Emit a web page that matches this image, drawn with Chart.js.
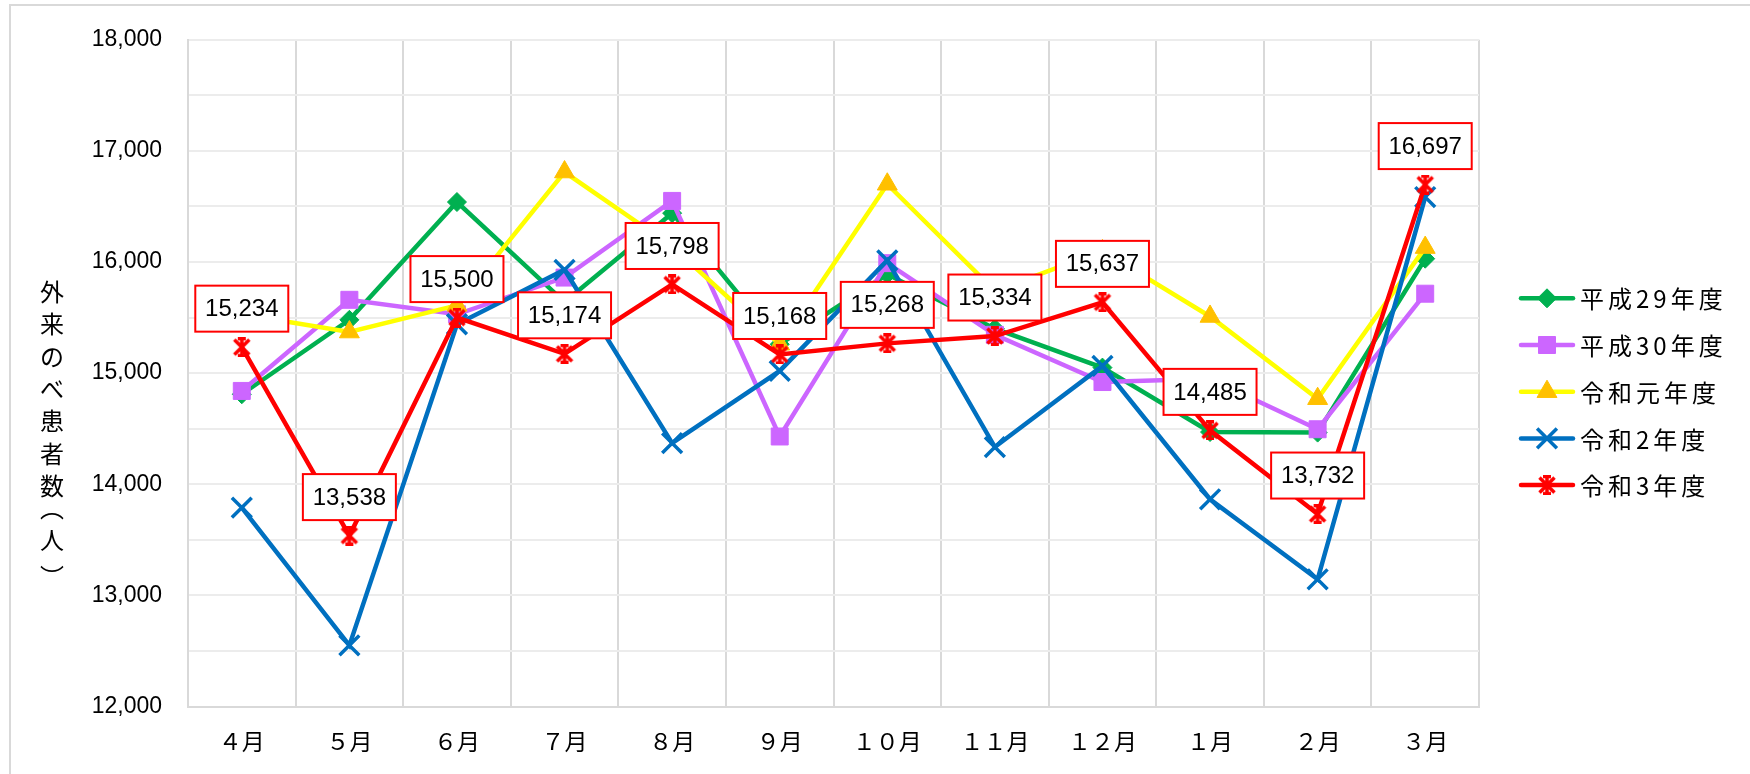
<!DOCTYPE html>
<html><head><meta charset="utf-8">
<script src="https://cdn.jsdelivr.net/npm/chart.js@4/dist/chart.umd.min.js"></script>
<style>html,body{margin:0;padding:0;background:#fff;overflow:hidden}</style>
</head><body>
<canvas id="c" width="1750" height="774" style="display:block;width:1750px;height:774px"></canvas>
<script>
// ---- data ----
const months = ['４月','５月','６月','７月','８月','９月','１０月','１１月','１２月','１月','２月','３月'];
const seriesNames = ['平成29年度','平成30年度','令和元年度','令和2年度','令和3年度'];
const h29 = [14810, 15480, 16540, 15640, 16440, 15260, 15890, 15400, 15050, 14470, 14465, 16030];
const h30 = [14840, 15660, 15530, 15860, 16550, 14430, 15990, 15345, 14920, 14950, 14495, 15715];
const r1  = [15530, 15370, 15610, 16810, 16140, 15260, 16700, 15740, 16100, 15510, 14770, 16130];
const r2  = [13790, 12550, 15440, 15930, 14370, 15020, 16015, 14335, 15065, 13865, 13145, 16585];
const r3  = [15234, 13538, 15500, 15174, 15798, 15168, 15268, 15334, 15637, 14485, 13732, 16697];
const yTitle = ['外','来','の','べ','患','者','数','︵','人','︶'];
const yMin = 12000, yMax = 18000, yStep = 500, yLabelStep = 1000;

function makeStar(color, size, lw) {
  const c = document.createElement('canvas');
  c.width = size; c.height = size;
  const g = c.getContext('2d');
  g.strokeStyle = color; g.lineWidth = lw; g.lineCap = 'butt';
  const m = 2.5;
  g.beginPath();
  g.moveTo(m, m); g.lineTo(size - m, size - m);
  g.moveTo(size - m, m); g.lineTo(m, size - m);
  g.moveTo(size / 2, 0.5); g.lineTo(size / 2, size - 0.5);
  g.moveTo(size / 2 - 4, 1.5); g.lineTo(size / 2 + 4, 1.5);
  g.moveTo(size / 2 - 4, size - 1.5); g.lineTo(size / 2 + 4, size - 1.5);
  g.stroke();
  return c;
}
const starImg = makeStar('#FF0000', 20, 3.5);

const fmt = v => Number(v).toLocaleString('en-US');

const datasets = [
  {label: seriesNames[0], data: h29, borderColor:'#00B050', backgroundColor:'#00B050',
   pointStyle:'rectRot', pointRadius:9.5, pointBackgroundColor:'#00B050', pointBorderColor:'#00B050', pointBorderWidth:1, order:5},
  {label: seriesNames[1], data: h30, borderColor:'#CC66FF', backgroundColor:'#CC66FF',
   pointStyle:'rect', pointRadius:12, pointBackgroundColor:'#CC66FF', pointBorderColor:'#CC66FF', pointBorderWidth:1, order:4},
  {label: seriesNames[2], data: r1, borderColor:'#FFFF00', backgroundColor:'#FFC000',
   pointStyle:'triangle', pointRadius:11.5, pointBackgroundColor:'#FFC000', pointBorderColor:'#FFC000', pointBorderWidth:1, order:3},
  {label: seriesNames[3], data: r2, borderColor:'#0070C0', backgroundColor:'#0070C0',
   pointStyle:'crossRot', pointRadius:14, pointBackgroundColor:'#0070C0', pointBorderColor:'#0070C0', pointBorderWidth:3.5, order:2},
  {label: seriesNames[4], data: r3, borderColor:'#FF0000', backgroundColor:'#FF0000',
   pointStyle: starImg, pointRadius:10, pointBackgroundColor:'#FF0000', pointBorderColor:'#FF0000', pointBorderWidth:3, order:1}
].map(d => Object.assign({borderWidth:4.5, tension:0, fill:false, pointHoverRadius:d.pointRadius}, d));

const framePlugin = {
  id:'frame',
  beforeDraw(chart){
    const ctx = chart.ctx;
    ctx.save();
    ctx.fillStyle = '#fff';
    ctx.fillRect(0,0,chart.width,chart.height);
    ctx.strokeStyle = '#d9d9d9';
    ctx.lineWidth = 2;
    ctx.strokeRect(10, 5, chart.width + 20, chart.height + 20);
    ctx.restore();
  }
};

const labelPlugin = {
  id:'redLabels',
  afterDatasetsDraw(chart){
    const ctx = chart.ctx;
    const idx = 4;
    const meta = chart.getDatasetMeta(idx);
    const data = chart.data.datasets[idx].data;
    ctx.save();
    ctx.font = '24px "Liberation Sans", Arial, sans-serif';
    ctx.textAlign = 'center';
    ctx.textBaseline = 'middle';
    meta.data.forEach((el, i) => {
      const cx = el.x, cy = el.y - 38.5;
      const w = 93, h = 46;
      ctx.fillStyle = '#fff';
      ctx.fillRect(cx - w/2, cy - h/2, w, h);
      ctx.strokeStyle = '#FF0000';
      ctx.lineWidth = 2;
      ctx.strokeRect(cx - w/2, cy - h/2, w, h);
      ctx.fillStyle = '#000';
      ctx.fillText(fmt(data[i]), cx, cy + 1);
    });
    ctx.restore();
  }
};

const legendPlugin = {
  id:'customLegend',
  afterDraw(chart){
    const ctx = chart.ctx;
    ctx.save();
    chart.data.datasets.forEach((ds, i) => {
      const y = 298.3 + i * 46.7;
      ctx.strokeStyle = ds.borderColor;
      ctx.lineWidth = 4.5;
      ctx.lineCap = 'round';
      ctx.beginPath(); ctx.moveTo(1521, y); ctx.lineTo(1573, y); ctx.stroke();
      ctx.lineCap = 'butt';
      ctx.fillStyle = ds.pointBackgroundColor;
      ctx.strokeStyle = ds.pointBorderColor;
      ctx.lineWidth = ds.pointBorderWidth;
      Chart.helpers.drawPoint(ctx, {pointStyle: ds.pointStyle, radius: ds.pointRadius, borderWidth: ds.pointBorderWidth, rotation:0}, 1547, y);
      ctx.fillStyle = '#000';
      ctx.font = '24px "Noto Sans CJK JP", sans-serif';
      ctx.letterSpacing = '4px';
      ctx.textAlign = 'left';
      ctx.textBaseline = 'middle';
      ctx.fillText(ds.label, 1580, y + 1);
      ctx.letterSpacing = '0px';
    });
    ctx.restore();
  }
};

const yTitlePlugin = {
  id:'yTitle',
  afterDraw(chart){
    const ctx = chart.ctx;
    ctx.save();
    ctx.fillStyle = '#000';
    ctx.font = '24px "Noto Sans CJK JP", sans-serif';
    ctx.textAlign = 'center';
    ctx.textBaseline = 'middle';
    const x = 52;
    let y = 292;
    yTitle.forEach(ch => {
      if (ch === '︵') {
        ctx.fillText(ch, x, y - 10);
        y += 22;
      } else if (ch === '︶') {
        ctx.fillText(ch, x, y + 4);
        y += 22;
      } else {
        ctx.fillText(ch, x, y);
        y += 32.3;
      }
    });
    ctx.restore();
  }
};

new Chart(document.getElementById('c'), {
  type:'line',
  data:{ labels: months, datasets },
  options:{
    responsive:false, animation:false, devicePixelRatio:1,
    layout:{ padding:{ left:0, right:271, top:34, bottom:0 } },
    plugins:{ legend:{display:false}, tooltip:{enabled:false} },
    scales:{
      x:{
        offset:true,
        grid:{ offset:true, color:'#d9d9d9', lineWidth:2, drawTicks:false },
        border:{ color:'#d9d9d9', width:2 },
        ticks:{ font:{ family:'"Noto Sans CJK JP", sans-serif', size:23 }, color:'#000', padding:21, maxRotation:0, autoSkip:false },
        afterFit(s){ s.height = 67.5; }
      },
      y:{
        min:yMin, max:yMax,
        ticks:{ stepSize:yStep, autoSkip:false,
          callback: v => (v % yLabelStep === 0 ? fmt(v) : ''),
          font:{ family:'"Liberation Sans", Arial, sans-serif', size:23 }, color:'#000', padding:26 },
        grid:{ color:'#ececec', lineWidth:2, drawTicks:false },
        border:{ color:'#d9d9d9', width:2 },
        afterFit(s){ s.width = 188; }
      }
    }
  },
  plugins:[framePlugin, labelPlugin, legendPlugin, yTitlePlugin]
});
</script>
</body></html>
